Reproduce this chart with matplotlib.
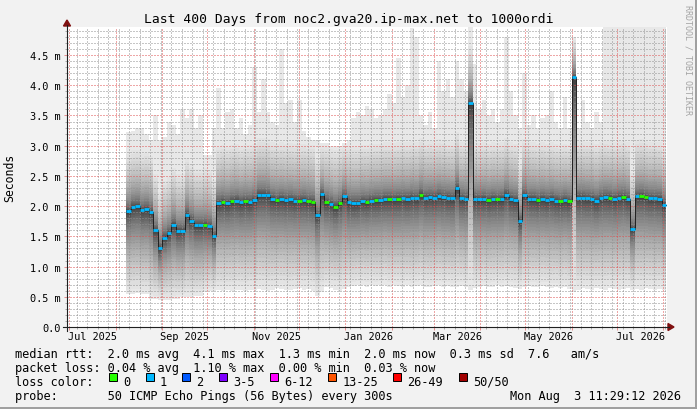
import matplotlib
matplotlib.use("Agg")
import matplotlib.pyplot as plt
import matplotlib.dates as mdates
from matplotlib.ticker import MultipleLocator, FuncFormatter
from matplotlib.collections import LineCollection
from matplotlib.patches import Rectangle, Polygon
from matplotlib.lines import Line2D
import numpy as np
import pandas as pd

W, H = 697, 410
MONO = "DejaVu Sans Mono"

# graph covers the last 400 days up to the legend timestamp
t_end = pd.Timestamp("2026-08-03 11:29:12")
t_start = t_end - pd.Timedelta(days=400)

# one sample every 3 days, first one on 2025-08-08
sample_start = "2025-08-08"

# median rtt (ms)
median_ms = [
    1.92, 1.99, 2.00, 1.93, 1.95, 1.90, 1.60, 1.30, 1.48, 1.55,
    1.69, 1.59, 1.59, 1.86, 1.76, 1.68, 1.68, 1.69, 1.67, 1.50,
    2.05, 2.07, 2.05, 2.08, 2.09, 2.06, 2.08, 2.07, 2.10, 2.19,
    2.19, 2.18, 2.12, 2.10, 2.12, 2.10, 2.11, 2.09, 2.09, 2.10,
    2.08, 2.07, 1.85, 2.20, 2.07, 2.04, 1.99, 2.05, 2.16, 2.06,
    2.05, 2.05, 2.08, 2.07, 2.09, 2.10, 2.10, 2.12, 2.12, 2.11,
    2.12, 2.13, 2.12, 2.14, 2.13, 2.19, 2.14, 2.15, 2.14, 2.17,
    2.15, 2.14, 2.13, 2.30, 2.13, 2.12, 3.71, 2.12, 2.11, 2.12,
    2.10, 2.12, 2.11, 2.12, 2.19, 2.12, 2.10, 1.75, 2.18, 2.12,
    2.12, 2.10, 2.12, 2.10, 2.12, 2.09, 2.08, 2.10, 2.08, 4.14,
    2.14, 2.14, 2.13, 2.12, 2.09, 2.13, 2.15, 2.14, 2.12, 2.14,
    2.15, 2.12, 1.62, 2.16, 2.17, 2.15, 2.13, 2.13, 2.12, 2.02,
]

# slowest ping (ms)
max_ms = [
    3.22, 3.25, 3.30, 3.30, 3.20, 3.10, 3.50, 3.10, 3.15, 3.40,
    3.35, 3.20, 3.60, 3.45, 3.60, 3.30, 3.50, 2.85, 2.85, 3.30,
    3.95, 3.30, 3.55, 3.60, 3.30, 3.45, 3.20, 3.35, 4.30, 3.55,
    4.10, 3.55, 3.40, 3.35, 4.60, 3.70, 3.75, 3.40, 3.75, 3.25,
    3.15, 3.10, 3.10, 3.05, 3.05, 3.00, 3.00, 3.00, 3.05, 3.10,
    3.45, 3.55, 3.50, 3.65, 3.60, 3.45, 3.50, 3.60, 3.85, 3.70,
    4.45, 3.80, 4.00, 4.95, 4.80, 3.50, 3.35, 3.55, 3.30, 4.40,
    3.90, 4.10, 3.80, 4.40, 4.10, 3.90, 5.20, 4.35, 3.60, 3.75,
    3.50, 3.60, 3.40, 3.60, 4.80, 3.90, 3.50, 3.30, 4.20, 3.35,
    3.50, 3.30, 3.45, 3.50, 3.90, 3.40, 3.30, 3.80, 3.30, 4.80,
    3.30, 3.75, 3.40, 3.30, 3.55, 3.40, 5.50, 5.50, 5.50, 5.50,
    5.50, 5.50, 5.50, 5.50, 5.50, 5.50, 5.50, 5.50, 5.50, 5.50,
]

# fastest ping (ms)
min_ms = [
    0.55, 0.55, 0.56, 0.55, 0.54, 0.47, 0.46, 0.45, 0.44, 0.45,
    0.46, 0.47, 0.49, 0.50, 0.50, 0.51, 0.52, 0.58, 0.60, 0.60,
    0.61, 0.60, 0.61, 0.60, 0.62, 0.61, 0.60, 0.62, 0.61, 0.63,
    0.62, 0.60, 0.62, 0.64, 0.63, 0.62, 0.61, 0.63, 0.64, 0.62,
    0.63, 0.60, 0.52, 0.58, 0.66, 0.64, 0.62, 0.60, 0.63, 0.66,
    0.68, 0.70, 0.69, 0.67, 0.70, 0.68, 0.69, 0.70, 0.67, 0.69,
    0.68, 0.67, 0.69, 0.66, 0.68, 0.70, 0.67, 0.66, 0.68, 0.69,
    0.67, 0.68, 0.66, 0.67, 0.68, 0.66, 0.62, 0.65, 0.67, 0.68,
    0.66, 0.67, 0.69, 0.66, 0.68, 0.67, 0.65, 0.63, 0.66, 0.68,
    0.67, 0.66, 0.68, 0.67, 0.65, 0.66, 0.64, 0.66, 0.63, 0.58,
    0.62, 0.64, 0.63, 0.62, 0.64, 0.63, 0.62, 0.64, 0.63, 0.62,
    0.63, 0.64, 0.62, 0.63, 0.62, 0.64, 0.63, 0.62, 0.63, 0.62,
]

# lost pings per sample
loss = [
    1, 1, 1, 1, 1, 1, 1, 1, 1, 1,
    1, 1, 1, 1, 1, 1, 1, 0, 1, 1,
    1, 0, 1, 0, 1, 1, 0, 1, 1, 1,
    1, 1, 1, 0, 1, 1, 1, 1, 0, 1,
    0, 0, 1, 1, 0, 1, 0, 0, 1, 1,
    1, 1, 1, 0, 1, 0, 1, 1, 0, 1,
    0, 1, 1, 1, 1, 0, 1, 1, 1, 1,
    1, 1, 1, 1, 1, 1, 1, 1, 1, 1,
    0, 1, 0, 1, 1, 1, 1, 1, 1, 1,
    1, 0, 1, 1, 1, 1, 0, 1, 0, 1,
    1, 1, 1, 1, 1, 1, 1, 0, 1, 1,
    0, 1, 1, 1, 0, 0, 1, 1, 1, 1,
]

loss_labels = ["0", "1", "2", "3-5", "6-12", "13-25", "26-49", "50/50"]
loss_bins = [0, 1, 2, 3, 6, 13, 26, 50]
loss_colors = ["#26ff00", "#00b8ff", "#0059ff", "#7e00ff",
               "#ff00ff", "#ff5500", "#ff0000", "#a10000"]

month_labels = ["Jul 2025", "Sep 2025", "Nov 2025", "Jan 2026",
                "Mar 2026", "May 2026", "Jul 2026"]

title = "Last 400 Days from noc2.gva20.ip-max.net to 1000ordi"
legend_rows = [
    "median rtt:  2.0 ms avg  4.1 ms max  1.3 ms min  2.0 ms now  0.3 ms sd  7.6   am/s",
    "packet loss: 0.04 % avg  1.10 % max  0.00 % min  0.03 % now",
    "loss color:",
    "probe:       50 ICMP Echo Pings (56 Bytes) every 300s",
]
stamp = "Mon Aug  3 11:29:12 2026"


def fx(px):
    return px / W


def fy(py):
    return 1 - py / H


def loss_color(n):
    idx = 0
    for j, b in enumerate(loss_bins):
        if n >= b:
            idx = j
    return loss_colors[idx]


fig = plt.figure(figsize=(W / 100, H / 100), dpi=100, facecolor="#f2f2f2")
ax = fig.add_axes([fx(67), fy(328), 600 / W, 300 / H])
ax.set_facecolor("white")
for s in ax.spines.values():
    s.set_visible(False)

med = np.array(median_ms)
hi = np.array(max_ms)
lo = np.array(min_ms)
n = len(med)
xe = mdates.date2num(pd.date_range(sample_start, periods=n + 1, freq="3D"))


def ext(a):
    return np.append(a, a[-1])


# smoke: nested bands, lightest (min..max) first, darkest near the median
n_bands = 30
up_span = np.minimum(hi - med, 1.0)
for k in range(n_bands):
    t = 1 - k / n_bands
    grey = 0.14 + 0.77 * t ** 0.8
    if k == 0:
        top, bot = hi, lo
    else:
        top = np.minimum(med + up_span * t ** 2, hi)
        bot = med - (med - lo) * t ** 1.5
    ax.fill_between(xe, ext(bot), ext(top), step="post", color=str(grey),
                    lw=0, antialiased=False, zorder=1)

# median: dark connector + loss coloured segments
ax.step(xe, ext(med), where="post", color="#202020", lw=0.7, zorder=3)
segs = [[(xe[i], med[i]), (xe[i + 1], med[i])] for i in range(n)]
ax.add_collection(LineCollection(segs, colors=[loss_color(v) for v in loss],
                                 linewidths=2.0, capstyle="butt", zorder=4))

ax.set_xlim(mdates.date2num(t_start), mdates.date2num(t_end))
ax.set_ylim(0, 300 / 60.44)

# dotted grid drawn over the smoke, like rrdtool
ax.set_axisbelow(False)
ax.xaxis.set_major_locator(mdates.MonthLocator())
ax.xaxis.set_minor_locator(mdates.WeekdayLocator(byweekday=mdates.SU))
ax.yaxis.set_major_locator(MultipleLocator(0.5))
ax.yaxis.set_minor_locator(MultipleLocator(0.1))
ax.grid(which="major", color=(0.87, 0.31, 0.31, 0.45), ls=(0, (1, 2)), lw=0.72)
ax.grid(which="minor", color=(0.56, 0.56, 0.56, 0.4), ls=(0, (1, 2)), lw=0.72)

ax.tick_params(axis="x", which="major", length=2.5, width=0.72,
               color=(0.87, 0.31, 0.31, 0.6), labelbottom=False)
ax.tick_params(axis="x", which="minor", length=1.5, width=0.72,
               color=(0.4, 0.4, 0.4, 0.5))
ax.tick_params(axis="y", which="major", length=2.2, width=0.72,
               color=(0.87, 0.31, 0.31, 0.6), pad=2.2, labelsize=7.4)
ax.tick_params(axis="y", which="minor", length=1.5, width=0.72,
               color=(0.4, 0.4, 0.4, 0.5))
ax.yaxis.set_major_formatter(FuncFormatter(
    lambda v, p: "0.0" if abs(v) < 1e-9 else f"{v:.1f} m"))
for lab in ax.get_yticklabels():
    lab.set_family(MONO)

# month labels centred on the month
for lab in month_labels:
    start = pd.to_datetime(lab, format="%b %Y")
    nxt = start + pd.offsets.MonthBegin(1)
    mid = mdates.date2num(start + (nxt - start) / 2)
    ax.text(mid, -12.0 / 300, lab, transform=ax.get_xaxis_transform(),
            ha="center", va="baseline", family=MONO, fontsize=7.4)

# axes with arrows
fig.add_artist(Line2D([fx(63), fx(669)], [fy(328), fy(328)], color="#202020", lw=0.8))
fig.add_artist(Line2D([fx(67), fx(67)], [fy(332), fy(26)], color="#202020", lw=0.8))
fig.add_artist(Polygon([(fx(668), fy(324.5)), (fx(674), fy(328)), (fx(668), fy(331.5))],
                       closed=True, color="#801010", transform=fig.transFigure))
fig.add_artist(Polygon([(fx(63.5), fy(27)), (fx(67), fy(21)), (fx(70.5), fy(27))],
                       closed=True, color="#801010", transform=fig.transFigure))

# texts
fig.text(fx(348.5), fy(23.5), title, ha="center", va="baseline",
         family=MONO, fontsize=9.4)
fig.text(fx(10), fy(178), "Seconds", rotation=90, ha="center", va="center",
         family=MONO, fontsize=8.3)
fig.text(fx(688), fy(5), "RRDTOOL / TOBI OETIKER", rotation=270, ha="center",
         va="top", family=MONO, fontsize=6.0, color="#a4a4a4")

baselines = [358, 372, 386, 400]
for row, yb in zip(legend_rows, baselines):
    fig.text(fx(15), fy(yb), row, ha="left", va="baseline", family=MONO, fontsize=8.55)
fig.text(fx(681.5), fy(400), stamp, ha="right", va="baseline", family=MONO, fontsize=8.55)

# loss colour boxes
bx = 109.0
for lab, col in zip(loss_labels, loss_colors):
    fig.add_artist(Rectangle((fx(bx), fy(382)), 8 / W, 8 / H, facecolor=col,
                             edgecolor="black", lw=0.7, transform=fig.transFigure))
    fig.text(fx(bx + 14.3), fy(386), lab, ha="left", va="baseline",
             family=MONO, fontsize=8.55)
    bx += 14.3 + len(lab) * 7.15 + 15.2

# 3d frame on the right and bottom edge
fig.add_artist(Rectangle((fx(695), 0), 2 / W, 1, color="#a0a0a0", lw=0,
                         transform=fig.transFigure))
fig.add_artist(Rectangle((0, 0), 1, 2 / H, color="#a0a0a0", lw=0,
                         transform=fig.transFigure))

fig.savefig("out.png", dpi=100, facecolor=fig.get_facecolor())
